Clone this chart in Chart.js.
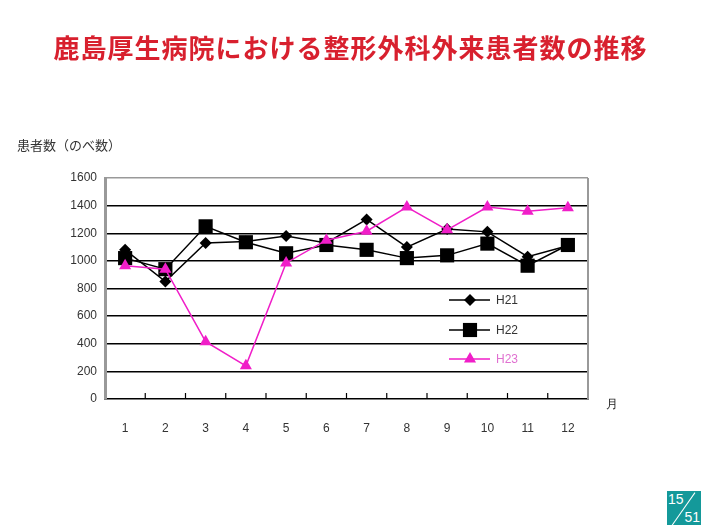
<!DOCTYPE html>
<html>
<head>
<meta charset="utf-8">
<script src="https://cdn.jsdelivr.net/npm/chart.js@4"></script>
<style>
  body { margin: 0; background: #fff; }
  #wrap { position: relative; width: 701px; height: 525px; overflow: hidden; }
  #title { position: absolute; left: 0; width: 701px; top: 28px; text-align: center;
    font: bold 26px "Noto Sans CJK JP", sans-serif; color: #d8202e; letter-spacing: 1px; }
  #ylab { position: absolute; left: 17px; top: 135px; font: 13px "Noto Sans CJK JP", sans-serif; color: #333; }
  #page { position: absolute; left: 667px; top: 491px; width: 34px; height: 34px; background: #14999a; color: #fff;
    font: 14px "Liberation Sans", Arial, sans-serif; overflow: hidden; }
  #page .a { position: absolute; left: 1px; top: 0px; }
  #page .b { position: absolute; right: 1px; bottom: 0px; }
  #page .d { position: absolute; left: 16px; top: -2px; width: 1px; height: 40px; background: #fff; transform: rotate(35deg); }
</style>
</head>
<body>
<div id="wrap">
  <canvas id="c" width="701" height="525"></canvas>
  <div id="title">鹿島厚生病院における整形外科外来患者数の推移</div>
  <div id="ylab">患者数（のべ数）</div>
  <div id="page"><span class="a">15</span><span class="d"></span><span class="b">51</span></div>
</div>
<script>
const months = ['1', '2', '3', '4', '5', '6', '7', '8', '9', '10', '11', '12'];
const h21 = [1080, 850, 1130, 1140, 1180, 1130, 1300, 1100, 1230, 1210, 1030, 1110];
const h22 = [1020, 940, 1250, 1135, 1055, 1115, 1080, 1020, 1040, 1125, 965, 1115];
const h23 = [965, 940, 415, 240, 985, 1150, 1215, 1390, 1225, 1390, 1360, 1385];
const yTicks = [0, 200, 400, 600, 800, 1000, 1200, 1400, 1600];

const MAGENTA = '#f01ec8';

// small upward ticks on the x axis between months, plus in-plot legend
const extras = {
    id: 'extras',
    afterDraw(chart) {
        const ctx = chart.ctx;
        const x = chart.scales.x;
        const area = chart.chartArea;
        ctx.save();
        ctx.strokeStyle = '#000';
        ctx.lineWidth = 1.2;
        for (let i = 1; i < months.length; i++) {
            const px = (x.getPixelForValue(i - 1) + x.getPixelForValue(i)) / 2;
            ctx.beginPath();
            ctx.moveTo(px, area.bottom);
            ctx.lineTo(px, area.bottom - 6);
            ctx.stroke();
        }

        // legend
        const items = [
            { label: 'H21', color: '#000', text: '#333', style: 'rectRot', r: 6, y: 300 },
            { label: 'H22', color: '#000', text: '#333', style: 'rect', r: 10, y: 330 },
            { label: 'H23', color: MAGENTA, text: '#e070d0', style: 'triangle', r: 7, y: 359 }
        ];
        ctx.font = '12px "Liberation Sans", Arial, sans-serif';
        ctx.textBaseline = 'middle';
        items.forEach(it => {
            ctx.strokeStyle = it.color;
            ctx.lineWidth = 1.5;
            ctx.beginPath();
            ctx.moveTo(449, it.y);
            ctx.lineTo(490, it.y);
            ctx.stroke();
            ctx.fillStyle = it.color;
            Chart.helpers.drawPoint(ctx, { pointStyle: it.style, radius: it.r, borderWidth: 0 }, 470, it.y);
            ctx.fillStyle = it.text;
            ctx.fillText(it.label, 496, it.y + 1);
        });

        ctx.fillStyle = '#222';
        ctx.fillText('月', 606, 405);
        ctx.restore();
    }
};

new Chart(document.getElementById('c'), {
    type: 'line',
    data: {
        labels: months,
        datasets: [
            { label: 'H21', data: h21, borderColor: '#000', backgroundColor: '#000', borderWidth: 1.5,
              pointStyle: 'rectRot', pointRadius: 6, pointBorderWidth: 0, order: 3 },
            { label: 'H22', data: h22, borderColor: '#000', backgroundColor: '#000', borderWidth: 1.5,
              pointStyle: 'rect', pointRadius: 10, pointBorderWidth: 0, order: 2 },
            { label: 'H23', data: h23, borderColor: MAGENTA, backgroundColor: MAGENTA, borderWidth: 1.5,
              pointStyle: 'triangle', pointRadius: 7, pointBorderWidth: 0, order: 1 }
        ]
    },
    options: {
        responsive: false,
        animation: false,
        layout: { padding: { left: 0, top: 178, right: 113, bottom: 0 } },
        plugins: {
            legend: { display: false },
            tooltip: { enabled: false }
        },
        scales: {
            x: {
                offset: true,
                afterFit: s => { s.height = 126; },
                grid: { display: false, drawTicks: false },
                border: { color: '#000', width: 1.5 },
                ticks: { color: '#333', padding: 22, font: { size: 12, family: '"Liberation Sans", Arial, sans-serif' } }
            },
            y: {
                min: 0,
                max: 1600,
                afterFit: s => { s.width = 105; },
                afterBuildTicks: s => { s.ticks = yTicks.map(v => ({ value: v })); },
                grid: {
                    drawTicks: false,
                    color: c => c.tick.value === 1600 ? '#999' : '#000',
                    lineWidth: c => c.tick.value === 0 ? 0 : 1.5
                },
                border: { color: '#999', width: 3 },
                ticks: {
                    color: '#333', padding: 8,
                    font: { size: 12, family: '"Liberation Sans", Arial, sans-serif' },
                    callback: v => String(v)
                }
            }
        }
    },
    plugins: [extras, {
        id: 'rightBorder',
        beforeDatasetsDraw(chart) {
            const ctx = chart.ctx, a = chart.chartArea;
            ctx.save();
            ctx.strokeStyle = '#999';
            ctx.lineWidth = 2;
            ctx.beginPath();
            ctx.moveTo(a.right, a.top);
            ctx.lineTo(a.right, a.bottom);
            ctx.stroke();
            ctx.restore();
        }
    }]
});
</script>
</body>
</html>
